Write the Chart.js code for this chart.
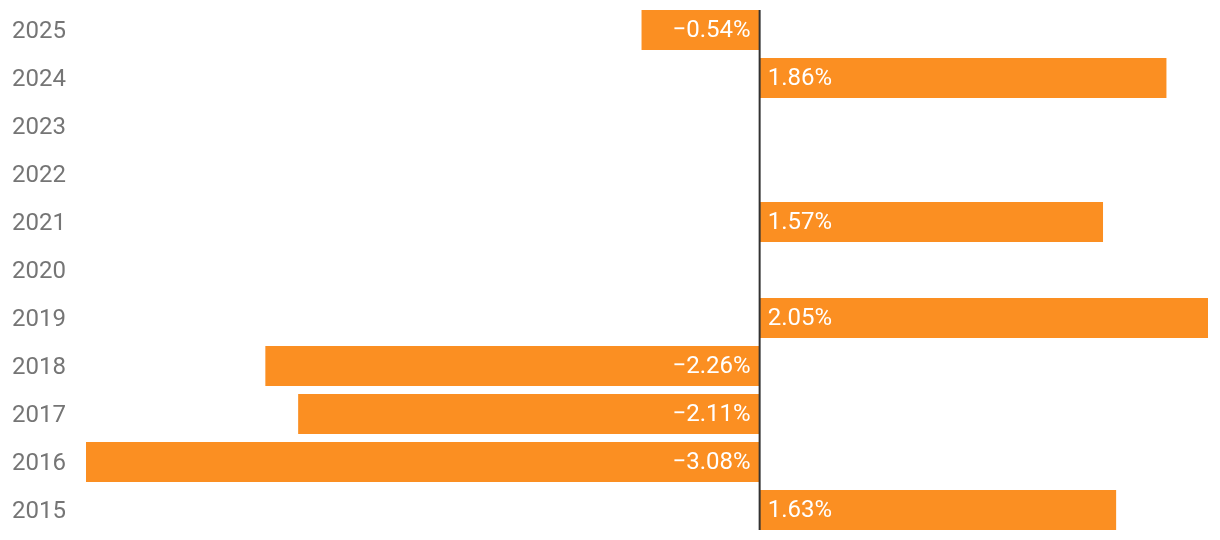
<!DOCTYPE html>
<html>
<head>
<meta charset="utf-8">
<script src="https://cdn.jsdelivr.net/npm/chart.js@4"></script>
<style>
  html, body { margin: 0; padding: 0; background: #ffffff; }
  #wrap { width: 1220px; height: 540px; position: relative; }
</style>
</head>
<body>
<div id="wrap"><canvas id="chart"></canvas></div>
<script>
// years top to bottom, values in percent (null = no bar)
var years = ["2025", "2024", "2023", "2022", "2021", "2020", "2019", "2018", "2017", "2016", "2015"];
var changes = [-0.54, 1.86, null, null, 1.57, null, 2.05, -2.26, -2.11, -3.08, 1.63];

var barColor = "#fb8f22";

//------zero line + value labels----------
var zeroLine = {
  id: "zeroLine",
  afterDatasetsDraw: function (chart) {
    var ctx = chart.ctx;
    var x = chart.scales.x.getPixelForValue(0);
    var area = chart.chartArea;
    ctx.save();
    ctx.strokeStyle = "#333333";
    ctx.lineWidth = 2;
    ctx.beginPath();
    ctx.moveTo(x, area.top + 4);
    ctx.lineTo(x, area.bottom - 4);
    ctx.stroke();

    ctx.fillStyle = "#ffffff";
    ctx.font = "24px Roboto";
    ctx.textBaseline = "middle";
    var meta = chart.getDatasetMeta(0);
    meta.data.forEach(function (bar, i) {
      var v = changes[i];
      if (v === null) return;
      var txt = v.toFixed(2).replace("-", "\u2212") + "%";
      if (v >= 0) {
        ctx.textAlign = "left";
        ctx.fillText(txt, x + 8, bar.y + 1);
      } else {
        ctx.textAlign = "right";
        ctx.fillText(txt, x - 9, bar.y + 1);
      }
    });
    ctx.restore();
  }
};

var ctx = document.getElementById("chart").getContext("2d");

var chart = new Chart(ctx, {
  type: "bar",
  data: {
    labels: years,
    datasets: [
      {
        data: changes,
        backgroundColor: barColor,
        borderWidth: 0,
        categoryPercentage: 1,
        barPercentage: 40 / 48
      }
    ]
  },
  options: {
    indexAxis: "y",
    responsive: true,
    maintainAspectRatio: false,
    animation: false,
    layout: {
      padding: { left: 12, right: 12, top: 6, bottom: 6 }
    },
    plugins: {
      legend: { display: false },
      tooltip: { enabled: false }
    },
    scales: {
      x: {
        display: false,
        min: -3.08,
        max: 2.05
      },
      y: {
        grid: { display: false },
        border: { display: false },
        ticks: {
          crossAlign: "far",
          color: "#757575",
          font: { family: "Roboto", size: 24 }
        },
        afterFit: function (scale) {
          scale.width = 74;
          scale.paddingTop = 0;
          scale.paddingBottom = 0;
        },
        afterUpdate: function (scale) {
          // nudge the year labels down a bit so they sit centred on the bars
          if (scale._nudged) return;
          scale._nudged = true;
          var orig = scale.drawLabels;
          scale.drawLabels = function (area) {
            this.ctx.save();
            this.ctx.translate(0, 2);
            orig.call(this, area);
            this.ctx.restore();
          };
        }
      }
    }
  },
  plugins: [zeroLine]
});
</script>
</body>
</html>
